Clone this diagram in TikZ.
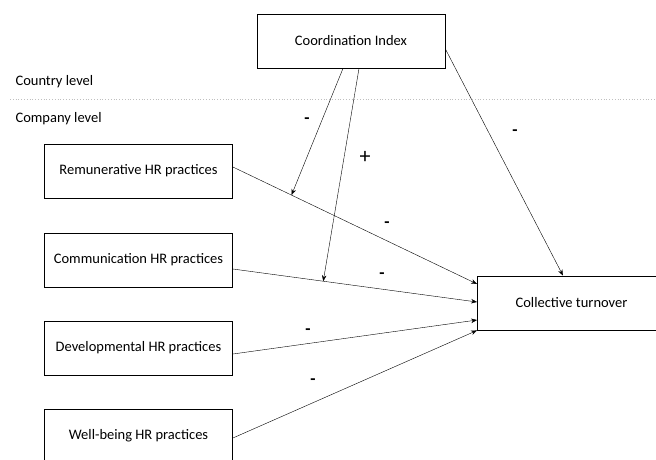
\documentclass[tikz,border=0pt]{standalone}
\usepackage{fontspec}
\setmainfont{Carlito}
\usetikzlibrary{arrows.meta}

\begin{document}
\begin{tikzpicture}[x=1pt,y=-1pt,>={Stealth[length=6pt,width=4.5pt]},
  box/.style={draw,thick,rectangle,minimum width=188pt,minimum height=54pt,font=\fontsize{14.5}{16}\selectfont},
  level/.style={anchor=west,font=\fontsize{14.5}{16}\selectfont},
  sign/.style={font=\fontsize{17}{18}\selectfont\bfseries}]
\useasboundingbox (0,0) rectangle (656,459);
\clip (0,0) rectangle (656,459);
\node (coord) at (351,41) [box] {Coordination Index};
\node (country) at (12,82) [level] {Country level};
\node (company) at (12,119) [level] {Company level};
\draw[dotted,thick,gray!50] (10,99) -- (656,99);
\node (rem) at (138.5,171) [box] {Remunerative HR practices};
\node (comm) at (138.5,260) [box] {Communication HR practices};
\node (dev) at (138.5,348) [box] {Developmental HR practices};
\node (well) at (138.5,436) [box] {Well-being HR practices};
\node (coll) at (571.5,303) [box] {Collective turnover};
\draw[->] ([yshift=4pt]rem.east) -- coordinate[pos=0.24] (modrem) ([yshift=19pt]coll.west);
\draw[->] ([yshift=-9pt]comm.east) -- coordinate[pos=0.37] (modcomm) ([yshift=1pt]coll.west);
\draw[->] ([yshift=-6pt]dev.east) -- ([yshift=-17pt]coll.west);
\draw[->] ([yshift=-2pt]well.east) -- (coll.south west);
\draw[->] ([xshift=-8pt]coord.south) -- (modrem);
\draw[->] ([xshift=8pt]coord.south) -- (modcomm);
\draw[->] ([yshift=-8pt]coord.east) -- ([xshift=-8.5pt]coll.north);
\node (s1) at (307,121) [sign] {-};
\node (s2) at (365,157) [sign,font=\fontsize{22}{24}\selectfont] {+};
\node (s3) at (515,133) [sign] {-};
\node (s4) at (387,225) [sign] {-};
\node (s5) at (382,276) [sign] {-};
\node (s6) at (308,332) [sign] {-};
\node (s7) at (313,382) [sign] {-};
\end{tikzpicture}
\end{document}
